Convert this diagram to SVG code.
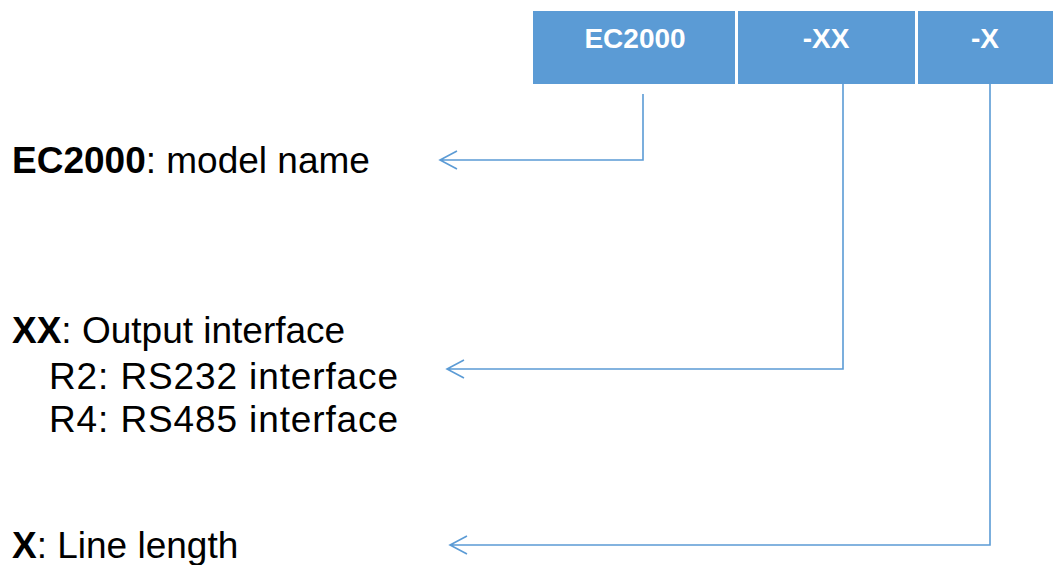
<svg xmlns="http://www.w3.org/2000/svg" width="1053" height="565" viewBox="0 0 1053 565">
<style>
.box{fill:#5B9BD5}
.bt{font-family:"Liberation Sans",Arial,sans-serif;font-weight:bold;font-size:28px;fill:#fff;text-anchor:middle}
.lbl{font-family:"Liberation Sans",Arial,sans-serif;font-size:37px;fill:#000}
.b{font-weight:bold}
.conn{fill:none;stroke:#5B9BD5;stroke-width:1.6}
</style>
<rect width="1053" height="565" fill="#fff"/>
<g id="node-ec2000"><rect class="box" x="533" y="11" width="202" height="73"/><text class="bt" x="635" y="48">EC2000</text></g>
<g id="node-xx"><rect class="box" x="738" y="11" width="177" height="73"/><text class="bt" x="826" y="48">-XX</text></g>
<g id="node-x"><rect class="box" x="918" y="11" width="135" height="73"/><text class="bt" x="985" y="48">-X</text></g>
<g id="label-model"><text class="lbl" x="12" y="173"><tspan class="b">EC2000</tspan>: model name</text></g>
<g id="label-output"><text class="lbl" x="12" y="343"><tspan class="b">XX</tspan>: Output interface</text>
<text class="lbl" x="49" y="389" textLength="349" lengthAdjust="spacing">R2: RS232 interface</text>
<text class="lbl" x="49" y="432" textLength="349" lengthAdjust="spacing">R4: RS485 interface</text></g>
<g id="label-length"><text class="lbl" x="12" y="558"><tspan class="b">X</tspan>: Line length</text></g>
<g id="connectors">
<path class="conn" d="M643 94V160H440M457 151L440 160L457 169"/>
<path class="conn" d="M843 84V369H447M464 360L447 369L464 378"/>
<path class="conn" d="M990 84V545H450M467 536L450 545L467 554"/>
</g>
</svg>
